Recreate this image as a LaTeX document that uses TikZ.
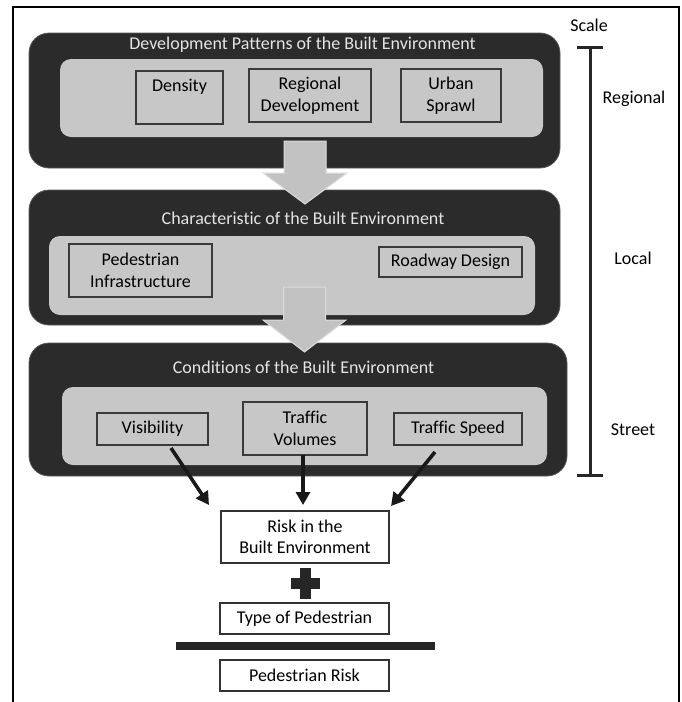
\documentclass[tikz,border=0pt]{standalone}
\usepackage{fontspec}
\setmainfont{Carlito}[Ligatures=NoCommon]
\usetikzlibrary{arrows.meta}
\definecolor{darkbox}{HTML}{2B2B2B}
\definecolor{darkedge}{HTML}{5A5A5A}
\definecolor{lightbox}{HTML}{C7C7C7}
\definecolor{itemedge}{HTML}{3A3A3A}
\definecolor{titletxt}{HTML}{E4E4E4}
\definecolor{blockfill}{HTML}{C2C2C2}
\definecolor{blockedge}{HTML}{DCDCDC}
\begin{document}
\begin{tikzpicture}[x=1pt,y=-1pt,
  txt/.style={font=\fontsize{18}{21.5}\selectfont, text=black},
  outerbox/.style={rectangle, rounded corners=20pt, fill=darkbox, draw=darkedge, line width=0.8pt, inner sep=0pt},
  innerbox/.style={rectangle, rounded corners=11pt, fill=lightbox, draw=none, inner sep=0pt},
  itembox/.style={rectangle, draw=itemedge, line width=1.2pt, fill=lightbox, inner sep=0pt, align=center, txt},
  whitebox/.style={rectangle, draw=black!80, line width=1.3pt, fill=white, inner sep=0pt, align=center, txt},
  titletext/.style={font=\fontsize{18}{21.5}\selectfont, text=titletxt},
  blockarrow/.style={fill=blockfill, draw=blockedge, line width=1pt},
  blackarrow/.style={line width=3.6pt, -{Triangle[length=13pt,width=14pt]}, black!90},
  scaleline/.style={line width=3pt, black!85},
  scaletext/.style={txt}
]
\useasboundingbox (0,0) rectangle (682,702);
\fill[white] (0,0) rectangle (682,702);
% outer frame
\draw[line width=2.5pt] (13,702) -- (13,7) -- (679,7) -- (679,702);

% ---- Box 1
\node[outerbox, minimum width=531pt, minimum height=135pt] (b1) at (294.5,100.5) {};
\node[innerbox, minimum width=483pt, minimum height=78pt] (i1) at (301.5,98) {};
\node[titletext] (t1) at (302.5,45) {Development Patterns of the Built Environment};
\node[itembox, minimum width=87pt, minimum height=53pt] (dens) at (179.5,97.5) {};
\node[txt] (denst) at (179.5,87) {Density};
\node[itembox, minimum width=122pt, minimum height=53pt] (regd) at (310,95.5) {Regional\\Development};
\node[itembox, minimum width=100pt, minimum height=53pt] (urb) at (451,95.5) {Urban\\Sprawl};

% ---- Box 2
\node[outerbox, minimum width=531pt, minimum height=135pt] (b2) at (294.5,257.5) {};
\node[innerbox, minimum width=486pt, minimum height=79pt] (i2) at (292,275.5) {};
\node[titletext] (t2) at (303,218) {Characteristic of the Built Environment};
\node[itembox, minimum width=143pt, minimum height=53pt] (ped) at (140.5,270.5) {Pedestrian\\Infrastructure};
\node[itembox, minimum width=143pt, minimum height=30pt] (road) at (450.5,262) {Roadway Design};

% ---- Box 3
\node[outerbox, minimum width=538pt, minimum height=133pt] (b3) at (298,409.5) {};
\node[innerbox, minimum width=485pt, minimum height=78pt] (i3) at (304.5,426) {};
\node[titletext] (t3) at (303.5,367) {Conditions of the Built Environment};
\node[itembox, minimum width=111pt, minimum height=32pt] (vis) at (152.5,429) {Visibility};
\node[itembox, minimum width=124pt, minimum height=53pt] (vol) at (305,428.5) {Traffic\\Volumes};
\node[itembox, minimum width=128pt, minimum height=32pt] (spd) at (458,429) {Traffic Speed};

% ---- block arrows
\draw[blockarrow] (284,141) -- (326,141) -- (326,173) -- (347,173) -- (305,204) -- (263,173) -- (284,173) -- cycle;
\draw[blockarrow] (283.5,287) -- (325.5,287) -- (325.5,320) -- (346,320) -- (304.5,352) -- (263,320) -- (283.5,320) -- cycle;

% ---- bottom
\node[whitebox, minimum width=168pt, minimum height=52pt] (risk) at (305,537) {Risk in the\\Built Environment};
\node[whitebox, minimum width=169pt, minimum height=31pt] (type) at (304.5,618.5) {Type of Pedestrian};
\node[whitebox, minimum width=169pt, minimum height=31pt] (prisk) at (304.5,675.5) {Pedestrian Risk};
\fill[black!85] (176,642) rectangle (435,650);
% plus sign
\fill[black!85] (300,568) rectangle (311,599);
\fill[black!85] (291,578) rectangle (320,589);

% ---- black arrows
\coordinate (a1s) at (171,448);
\coordinate (a1e) at (209,505);
\coordinate (a2s) at (303,455);
\coordinate (a2e) at (303,505);
\coordinate (a3s) at (435,452);
\coordinate (a3e) at (391,506);
\draw[blackarrow] (a1s) -- (a1e);
\draw[blackarrow] (a2s) -- (a2e);
\draw[blackarrow] (a3s) -- (a3e);

% ---- scale
\node[scaletext] (scl) at (589,25) {Scale};
\coordinate (st) at (590,47);
\coordinate (sb) at (590,475);
\draw[scaleline] (st) -- (sb);
\draw[scaleline] (577,47) -- (603,47);
\draw[scaleline] (577,475) -- (603,475);
\node[scaletext] (sreg) at (634,99) {Regional};
\node[scaletext] (sloc) at (633,258) {Local};
\node[scaletext] (sstr) at (633,430) {Street};
\end{tikzpicture}
\end{document}
